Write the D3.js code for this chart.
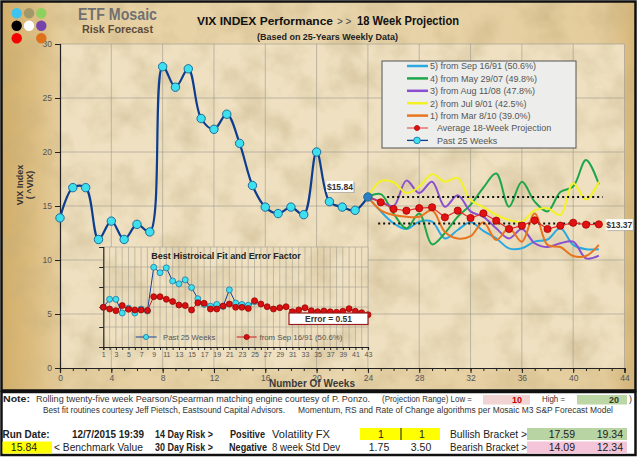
<!DOCTYPE html>
<html>
<head>
<meta charset="utf-8">
<script src="https://cdn.jsdelivr.net/npm/d3@7"></script>
<style>
  body { margin: 0; background: #fff; }
  svg text { font-family: "Liberation Sans", Arial, sans-serif; }
</style>
</head>
<body>
<div id="chart"></div>
<script>
// ---- data ----
const pastWeeks = [0,1,2,3,4,5,6,7,8,9,10,11,12,13,14,15,16,17,18,19,20,21,22,23,24];
const pastVix = [13.9,16.7,16.7,11.9,13.6,11.9,13.3,12.6,27.9,26.0,27.7,23.1,22.1,23.5,20.8,16.9,14.9,14.3,14.9,14.2,20.0,15.4,14.9,14.6,15.84];

const projWeeks = [24,25,26,27,28,29,30,31,32,33,34,35,36,37,38,39,40,41,42];
const projSep91 = [15.84,14.5,13.4,12.87,13.55,13.55,12.0,12.78,13.5,12.7,12.0,11.08,11.08,11.7,11.9,12.93,11.4,11.0,11.0];
const projMay07 = [15.84,16.1,14.3,12.93,14.3,11.45,12.5,14.0,15.1,16.7,18.0,14.94,17.25,15.4,14.5,16.3,16.8,19.26,17.0];
const projAug08 = [15.84,15.4,15.0,17.35,16.2,17.25,14.94,16.0,14.5,14.0,12.93,12.0,12.87,11.55,11.2,11.55,11.7,10.15,10.4];
const projJul01 = [15.84,17.3,17.2,16.2,16.8,17.95,17.25,17.6,15.55,14.9,14.17,13.7,13.55,14.6,14.8,14.17,17.1,15.6,17.25];
const projMar10 = [15.84,14.6,14.17,14.0,14.0,14.6,12.6,12.0,12.2,13.5,11.85,12.93,11.7,14.3,11.4,11.2,10.37,10.37,11.4];
const avgProj  = [15.84,15.34,14.72,14.57,14.8,14.88,13.95,14.57,13.89,14.32,13.64,12.87,13.18,13.67,12.87,13.18,13.45,13.27,13.3];

const benchmark = 15.84;
const projectedEnd = 13.37;

const legendNames = ["5)  from Sep 16/91 (50.6%)","4)  from May 29/07 (49.8%)","3)  from Aug 11/08 (47.8%)",
                     "2)  from Jul 9/01 (42.5%)","1)  from Mar 8/10 (39.0%)","Average 18-Week Projection","Past 25 Weeks"];

const xTicks = [0,4,8,12,16,20,24,28,32,36,40,44];
const yTicks = [0,5,10,15,20,25,30];

// inset: best historical fit
const fitIndex = [1,2,3,4,5,6,7,8,9,10,11,12,13,14,15,16,17,18,19,20,21,22,23,24,25,26,27,28,29,30,31,32,33,34,35,36,37,38,39,40,41,42,43];
const fitSep91 = [13.9,13.3,12.7,14.5,13.2,12.95,12.95,12.8,17.6,17.6,16.7,15.9,14.7,14.5,12.95,15.5,15.3,13.3,13.3,14.35,15.05,13.9,13.9,13.5,16.2,
                  15.05,14.1,13.3,13.75,14.1,12.35,12.95,13.75,12.7,12.35,12.6,12.3,12.15,12.5,13.4,12.5,12.0,11.3];
const insetYTicks = [0,7,14,21,28,35];
const insetLabels = [1,3,5,7,9,11,13,15,17,19,21,23,25,27,29,31,33,35,37,39,41,43];
const fitError = 0.51;

// bottom table
const rangeLow = 10, rangeHigh = 20;
const runDate = "12/7/2015 19:39";
const volFX = [1, 1];
const stdDev8 = ["1.75", "3.50"];
const bullish = ["17.59", "19.34"];
const bearish = ["14.09", "12.34"];

// ---- drawing ----
const svg = d3.select("#chart").append("svg").attr("width", 640).attr("height", 458);
const defs = svg.append("defs");

const paper = defs.append("filter").attr("id", "paper")
  .attr("x", 0).attr("y", 0).attr("width", "100%").attr("height", "100%");
paper.append("feTurbulence").attr("type", "fractalNoise").attr("baseFrequency", "0.03")
  .attr("numOctaves", 4).attr("seed", 7).attr("result", "noise");
paper.append("feColorMatrix").attr("in", "noise").attr("type", "matrix")
  .attr("values", "0 0 0 0 0.55  0 0 0 0 0.42  0 0 0 0 0.2  1.1 0 0 0 -0.45").attr("result", "spots");
paper.append("feComposite").attr("in", "spots").attr("in2", "SourceGraphic").attr("operator", "atop");

const outerGrad = defs.append("linearGradient").attr("id", "outerGrad");
[["0%", "#d3ae68"], ["5%", "#dcbd80"], ["10%", "#e6cfa0"], ["50%", "#e9d6ad"], ["95%", "#e4cc9c"], ["100%", "#d6b577"]]
  .forEach(s => outerGrad.append("stop").attr("offset", s[0]).attr("stop-color", s[1]));

// outer chart frame
svg.append("rect").attr("x", 1.5).attr("y", 1.5).attr("width", 634).attr("height", 389)
  .attr("fill", "url(#outerGrad)").attr("filter", "url(#paper)");
svg.append("rect").attr("x", 1.5).attr("y", 1.5).attr("width", 634).attr("height", 389)
  .attr("fill", "none").attr("stroke", "#111").attr("stroke-width", 2.5);

const x = d3.scaleLinear().domain([0, 44]).range([60, 624.5]);
const y = d3.scaleLinear().domain([0, 30]).range([368, 44]);

// plot area
svg.append("rect").attr("x", x(0)).attr("y", y(30)).attr("width", x(44) - x(0)).attr("height", y(0) - y(30))
  .attr("fill", "#eee0c0").attr("filter", "url(#paper)");

const grid = svg.append("g").attr("stroke", "#9d9a90").attr("stroke-opacity", 0.6).attr("stroke-width", 1);
grid.selectAll(".gx").data(xTicks.filter(d => d > 0)).join("line")
  .attr("x1", d => x(d)).attr("x2", d => x(d)).attr("y1", y(0)).attr("y2", y(30));
grid.selectAll(".gy").data(yTicks.filter(d => d > 0)).join("line")
  .attr("x1", x(0)).attr("x2", x(44)).attr("y1", d => y(d)).attr("y2", d => y(d));

// axes
function styleAxis(g, size) {
  g.select(".domain").attr("stroke", "#222").attr("stroke-width", 1.2);
  g.selectAll(".tick line").attr("stroke", "#222");
  g.selectAll(".tick text").attr("fill", "#555").attr("font-size", size);
}
svg.append("g").attr("transform", `translate(${x(0)},0)`)
  .call(d3.axisLeft(y).tickValues(yTicks).tickSize(5).tickPadding(3))
  .call(g => styleAxis(g, 8.5));
svg.append("g").attr("transform", `translate(0,${y(0)})`)
  .call(d3.axisBottom(x).ticks(44).tickSize(3).tickFormat(""))
  .call(g => styleAxis(g, 8));
svg.append("g").attr("transform", `translate(0,${y(0)})`)
  .call(d3.axisBottom(x).tickValues(xTicks).tickSize(5).tickPadding(2))
  .call(g => styleAxis(g, 8.5));

svg.append("text").attr("x", 312).attr("y", 386.5).attr("text-anchor", "middle")
  .attr("font-size", 10).attr("font-weight", "bold").attr("fill", "#3a3a3a").text("Number Of Weeks");
svg.append("text").attr("transform", "translate(23,185) rotate(-90)").attr("text-anchor", "middle")
  .attr("font-size", 9).attr("font-weight", "bold").attr("fill", "#333").text("VIX Index");
svg.append("text").attr("transform", "translate(32.5,185) rotate(-90)").attr("text-anchor", "middle")
  .attr("font-size", 9).attr("font-weight", "bold").attr("fill", "#333").text("( ^VIX)");

// titles and logo
const logoColors = [["#3fc4f0", "#a29868", "#8fd15e"], ["#000000", "#ffffff", "#7642ab"], ["#f40000", null, "#e0711c"]];
logoColors.forEach((row, r) => row.forEach((c, k) => {
  if (c) svg.append("circle").attr("cx", 16.7 + k * 12.3).attr("cy", 13.3 + r * 12.5).attr("r", 5.2).attr("fill", c);
}));
svg.append("text").attr("x", 78).attr("y", 20).attr("font-family", "DejaVu Sans").attr("font-weight", "bold")
  .attr("font-size", 16).attr("fill", "#707070").attr("textLength", 79).attr("lengthAdjust", "spacingAndGlyphs").text("ETF Mosaic");
svg.append("text").attr("x", 82).attr("y", 32.5).attr("font-family", "DejaVu Sans").attr("font-weight", "bold")
  .attr("font-size", 10).attr("fill", "#5d4c3a").attr("textLength", 71).attr("lengthAdjust", "spacingAndGlyphs").text("Risk Forecast");

const title = svg.append("text").attr("y", 25).attr("font-family", "DejaVu Sans").attr("font-weight", "bold").attr("fill", "#111");
title.append("tspan").attr("x", 197).attr("font-size", 11.5).attr("textLength", 136).attr("lengthAdjust", "spacingAndGlyphs").text("VIX  INDEX Performance");
title.append("tspan").attr("x", 337).attr("font-size", 10).attr("font-weight", "normal").attr("fill", "#444").text("> >");
title.append("tspan").attr("x", 357).attr("font-size", 13).attr("textLength", 102).attr("lengthAdjust", "spacingAndGlyphs").text("18 Week Projection");
svg.append("text").attr("x", 257).attr("y", 40).attr("font-size", 9.5).attr("font-weight", "bold").attr("fill", "#222")
  .attr("textLength", 141).attr("lengthAdjust", "spacingAndGlyphs").text("(Based on 25-Years Weekly Data)");

// projections
const projSeries = [
  { values: projSep91, color: "#2aa8e0" },
  { values: projMay07, color: "#1ea64a" },
  { values: projAug08, color: "#8a4fd0" },
  { values: projJul01, color: "#f2f224" },
  { values: projMar10, color: "#e8741f" }
];
const smooth = d3.line().curve(d3.curveCatmullRom.alpha(0.5));
projSeries.forEach(s => {
  svg.append("path").attr("fill", "none").attr("stroke", s.color).attr("stroke-width", 2)
    .attr("d", smooth(projWeeks.map((w, i) => [x(w), y(s.values[i])])));
});

// dotted reference lines
svg.append("line").attr("x1", x(25.5)).attr("x2", x(42.3)).attr("y1", y(benchmark)).attr("y2", y(benchmark))
  .attr("stroke", "#111").attr("stroke-width", 2).attr("stroke-dasharray", "2 3");
svg.append("line").attr("x1", x(24.8)).attr("x2", x(42.3)).attr("y1", y(projectedEnd)).attr("y2", y(projectedEnd))
  .attr("stroke", "#111").attr("stroke-width", 2).attr("stroke-dasharray", "2 3");

// average projection
svg.append("path").attr("fill", "none").attr("stroke", "#e53030").attr("stroke-width", 1.2)
  .attr("d", d3.line()(projWeeks.map((w, i) => [x(w), y(avgProj[i])])));
svg.selectAll(".avg").data(projWeeks.slice(1)).join("circle")
  .attr("cx", d => x(d)).attr("cy", (d, i) => y(avgProj[i + 1])).attr("r", 3.6)
  .attr("fill", "#e31212").attr("stroke", "#a80000").attr("stroke-width", 0.8);

// past 25 weeks
svg.append("path").attr("fill", "none").attr("stroke", "#0c3d8f").attr("stroke-width", 2.2)
  .attr("d", smooth(pastWeeks.map((w, i) => [x(w), y(pastVix[i])])));
svg.selectAll(".past").data(pastWeeks).join("circle")
  .attr("cx", d => x(d)).attr("cy", (d, i) => y(pastVix[i])).attr("r", 4.2)
  .attr("fill", (d, i) => i === pastWeeks.length - 1 ? "#2f7fc0" : "#3fe0ee")
  .attr("stroke", "#1a6c9c").attr("stroke-width", 1);

// value labels
function valueLabel(cx, cy, w, txt) {
  svg.append("rect").attr("x", cx - w / 2 + 1.5).attr("y", cy - 5).attr("width", w).attr("height", 11).attr("fill", "#9a9a9a").attr("opacity", 0.6);
  svg.append("rect").attr("x", cx - w / 2).attr("y", cy - 6).attr("width", w).attr("height", 11).attr("fill", "#fff");
  svg.append("text").attr("x", cx).attr("y", cy + 3).attr("text-anchor", "middle").attr("font-size", 8.5)
    .attr("font-weight", "bold").attr("fill", "#333").text(txt);
}
valueLabel(x(24) - 28, y(benchmark) - 10, 27, "$" + benchmark.toFixed(2));
valueLabel(x(42) + 20.5, y(projectedEnd) + 1.5, 27, "$" + projectedEnd.toFixed(2));

// legend
const lg = svg.append("g");
lg.append("rect").attr("x", 382).attr("y", 61).attr("width", 194).attr("height", 87)
  .attr("fill", "#ededeb").attr("stroke", "#555").attr("stroke-width", 1);
const legendStyle = [
  { color: "#2aa8e0" }, { color: "#1ea64a" }, { color: "#8a4fd0" }, { color: "#f2f224" }, { color: "#e8741f" },
  { color: "#e86060", dot: "#e31212" }, { color: "#0c3d8f", dot: "#3fe0ee" }
];
legendNames.forEach((name, i) => {
  const ly = 66 + i * 12.4;
  const st = legendStyle[i];
  lg.append("line").attr("x1", 407).attr("x2", 428).attr("y1", ly).attr("y2", ly)
    .attr("stroke", st.color).attr("stroke-width", st.dot ? 1.3 : 2.5);
  if (st.dot) lg.append("circle").attr("cx", 417).attr("cy", ly).attr("r", i === 5 ? 2.5 : 3.3)
    .attr("fill", st.dot).attr("stroke", i === 5 ? "#a80000" : "#1a6c9c").attr("stroke-width", 0.8);
  lg.append("text").attr("x", st.dot ? 437 : 430).attr("y", ly + 3.3).attr("font-size", 9).attr("fill", "#555").text(name);
});

// inset chart
const xi = d3.scaleLinear().domain([1, 43]).range([103.3, 368]);
const yi = d3.scaleLinear().domain([0, 35]).range([347, 247]);
const inset = svg.append("g");
inset.append("rect").attr("x", xi(1)).attr("y", yi(35)).attr("width", xi(43) - xi(1)).attr("height", yi(0) - yi(35))
  .attr("fill", "#eee0c0").attr("filter", "url(#paper)");
inset.append("g").attr("stroke", "#9d9a90").attr("stroke-opacity", 0.55)
  .selectAll("line").data(fitIndex.slice(1)).join("line")
  .attr("x1", d => xi(d)).attr("x2", d => xi(d)).attr("y1", yi(0)).attr("y2", yi(35));
inset.append("g").attr("stroke", "#9d9a90").attr("stroke-opacity", 0.55)
  .selectAll("line").data(insetYTicks.slice(1)).join("line")
  .attr("x1", xi(1)).attr("x2", xi(43)).attr("y1", d => yi(d)).attr("y2", d => yi(d));
inset.append("g").attr("transform", `translate(${xi(1)},0)`)
  .call(d3.axisLeft(yi).tickValues(insetYTicks).tickSize(4).tickFormat(""))
  .call(g => styleAxis(g, 7));
inset.append("g").attr("transform", `translate(0,${yi(0)})`)
  .call(d3.axisBottom(xi).tickValues(fitIndex).tickSize(3).tickPadding(2)
    .tickFormat(d => insetLabels.includes(d) ? d : ""))
  .call(g => styleAxis(g, 7));

inset.append("text").attr("x", 226).attr("y", 258.5).attr("text-anchor", "middle").attr("font-size", 9)
  .attr("font-weight", "bold").attr("fill", "#222").text("Best  Histroical Fit and Error Factor");

inset.append("path").attr("fill", "none").attr("stroke", "#d01818").attr("stroke-width", 1)
  .attr("d", d3.line()(fitIndex.map((d, i) => [xi(d), yi(fitSep91[i])])));
inset.append("path").attr("fill", "none").attr("stroke", "#1c3f96").attr("stroke-width", 1)
  .attr("d", d3.line()(pastVix.map((v, i) => [xi(fitIndex[i]), yi(v)])));
inset.selectAll(".ic").data(pastVix).join("circle")
  .attr("cx", (d, i) => xi(fitIndex[i])).attr("cy", d => yi(d)).attr("r", 3)
  .attr("fill", "#3fe0ee").attr("stroke", "#1a6c9c").attr("stroke-width", 0.7);
inset.selectAll(".ir").data(fitSep91).join("circle")
  .attr("cx", (d, i) => xi(fitIndex[i])).attr("cy", d => yi(d)).attr("r", 3)
  .attr("fill", "#d90f0f").attr("stroke", "#8e0000").attr("stroke-width", 0.7);

// inset legend
inset.append("line").attr("x1", 135.7).attr("x2", 156.7).attr("y1", 337).attr("y2", 337).attr("stroke", "#1c3f96");
inset.append("circle").attr("cx", 146).attr("cy", 337).attr("r", 2.6).attr("fill", "#3fe0ee").attr("stroke", "#1a6c9c").attr("stroke-width", 0.7);
inset.append("text").attr("x", 163).attr("y", 340).attr("font-size", 7.8).attr("fill", "#555").text("Past 25 Weeks");
inset.append("line").attr("x1", 236.7).attr("x2", 256.7).attr("y1", 337).attr("y2", 337).attr("stroke", "#d01818");
inset.append("circle").attr("cx", 246.7).attr("cy", 337).attr("r", 2.6).attr("fill", "#d90f0f").attr("stroke", "#8e0000").attr("stroke-width", 0.7);
inset.append("text").attr("x", 259.5).attr("y", 340).attr("font-size", 7.8).attr("fill", "#555").text("from Sep 16/91 (50.6%)");

// error box
inset.append("rect").attr("x", 289).attr("y", 313).attr("width", 79).attr("height", 11.5)
  .attr("fill", "#fff").attr("stroke", "#9b1c1c").attr("stroke-width", 1.2);
inset.append("text").attr("x", 328.5).attr("y", 321.8).attr("text-anchor", "middle").attr("font-size", 8.5)
  .attr("font-weight", "bold").attr("fill", "#333").text("Error = " + fitError.toFixed(2));

// ---- bottom table ----
const tb = svg.append("g");
tb.append("rect").attr("x", 1.5).attr("y", 392).attr("width", 634).attr("height", 63)
  .attr("fill", "#fff").attr("stroke", "#111").attr("stroke-width", 2.5);

function t(xp, yp, txt, opts = {}) {
  const el = tb.append("text").attr("x", xp).attr("y", yp).attr("font-size", opts.size || 10.5)
    .attr("fill", opts.fill || "#222").attr("text-anchor", opts.anchor || "start").text(txt);
  if (opts.bold) el.attr("font-weight", "bold");
  if (opts.len) el.attr("textLength", opts.len).attr("lengthAdjust", "spacingAndGlyphs");
  return el;
}
function box(x0, y0, w, h, fill) {
  tb.append("rect").attr("x", x0).attr("y", y0).attr("width", w).attr("height", h).attr("fill", fill);
}

// note rows
t(3, 402, "Note:", { bold: true, size: 8.5, len: 27 });
t(36, 402, "Rolling twenty-five week Pearson/Spearman matching engine courtesy of P. Ponzo.", { size: 8.5, len: 334, fill: "#333" });
t(382, 402, "(Projection Range) Low =", { size: 8.5, len: 90, fill: "#333" });
box(483, 395, 47, 9.5, "#f1d3d3");
t(522, 402.5, String(rangeLow), { size: 9, bold: true, anchor: "end", fill: "#c40000" });
t(542, 402, "High =", { size: 8.5, len: 23, fill: "#333" });
box(577, 395, 50, 9.5, "#bcd6a6");
t(619, 402.5, String(rangeHigh), { size: 9, bold: true, anchor: "end", fill: "#2e3d22" });
t(629, 402, ")", { size: 9, fill: "#333" });
t(43, 412.5, "Best fit routines courtesy Jeff Pietsch, Eastsound Capital Advisors.", { size: 8.5, len: 242, fill: "#333" });
t(298, 412.5, "Momentum, RS and Rate of Change algorithms per Mosaic M3 S&P Forecast Model", { size: 8.5, len: 315, fill: "#333" });

// run date row
const r3 = 438, r4 = 451;
t(2.5, r3, "Run Date:", { bold: true, len: 47 });
t(72, r3, runDate, { bold: true, len: 72 });
t(155, r3, "14 Day Risk >", { bold: true, len: 58 });
t(230, r3, "Positive", { bold: true, len: 35 });
t(272, r3, "Volatility FX", { len: 58 });
box(360, 428, 80, 12, "#ffff00");
tb.append("line").attr("x1", 401).attr("x2", 401).attr("y1", 428).attr("y2", 440).attr("stroke", "#111");
t(381, r3, String(volFX[0]), { anchor: "middle" });
t(422, r3, String(volFX[1]), { anchor: "middle" });
t(450, r3, "Bullish Bracket >", { len: 77 });
box(527, 428, 100, 12, "#b8d4a2");
t(575, r3, bullish[0], { anchor: "end" });
t(623, r3, bullish[1], { anchor: "end" });

box(2.5, 441.5, 49.5, 12, "#ffff00");
t(24, r4, benchmark.toFixed(2), { anchor: "middle" });
t(54, r4, "< Benchmark Value", { len: 89 });
t(155, r4, "30 Day Risk >", { bold: true, len: 58 });
t(229, r4, "Negative", { bold: true, len: 38 });
t(272, r4, "8 week Std Dev", { len: 68 });
t(379, r4, stdDev8[0], { anchor: "middle" });
t(421, r4, stdDev8[1], { anchor: "middle" });
t(450, r4, "Bearish Bracket >", { len: 77 });
box(527, 441.5, 100, 12, "#f4c4d8");
t(575, r4, bearish[0], { anchor: "end" });
t(623, r4, bearish[1], { anchor: "end" });
</script>
</body>
</html>
